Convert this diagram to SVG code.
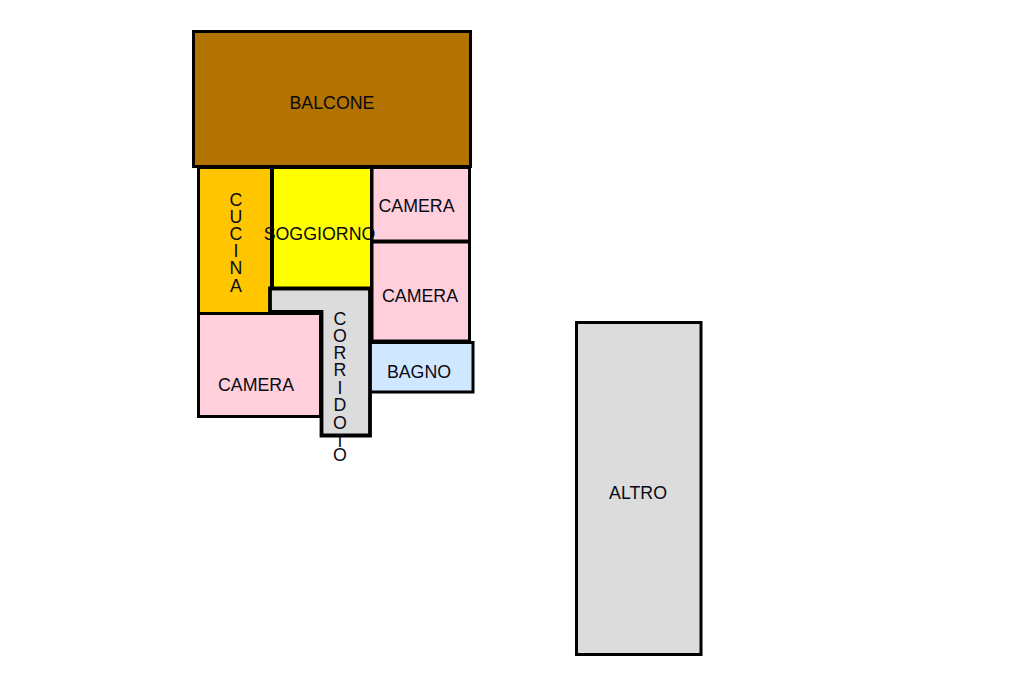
<svg xmlns="http://www.w3.org/2000/svg" width="1024" height="682" viewBox="0 0 1024 682">
<style>
.r{stroke:#000;stroke-width:3;stroke-linejoin:miter}
.t{font-family:"Liberation Sans",Arial,sans-serif;font-size:17.800px;fill:#0a0a14;text-anchor:middle}
.pink{fill:#ffd0dc}
</style>
<rect width="1024" height="682" fill="#fff"/>
<g id="balcone"><rect class="r" x="193.500" y="31.500" width="277" height="135" fill="#b27300"/><text class="t" x="332" y="108.500">BALCONE</text></g>
<g id="cucina"><rect class="r" x="198.500" y="167.500" width="73" height="146" fill="#ffc600"/><text class="t" x="236" y="205.500"><tspan x="236">C</tspan><tspan x="236" dy="17.500">U</tspan><tspan x="236" dy="16.500">C</tspan><tspan x="236" dy="17">I</tspan><tspan x="236" dy="17">N</tspan><tspan x="236" dy="18">A</tspan></text></g>
<g id="soggiorno"><rect class="r" x="272.500" y="167.500" width="99" height="122" fill="#ffff00"/></g>
<g id="camera1"><rect class="r pink" x="372" y="167.500" width="97.500" height="73.500"/><text class="t" x="416.500" y="211.500">CAMERA</text></g>
<g id="camera2"><rect class="r pink" x="372" y="242" width="97.500" height="99"/><text class="t" x="420" y="301.500">CAMERA</text></g>
<g id="camera3"><rect class="r pink" x="198.500" y="313.500" width="122" height="103"/><text class="t" x="256" y="390.500">CAMERA</text></g>
<g id="bagno"><rect class="r" x="369.500" y="342.500" width="103.500" height="49.500" fill="#d0e8ff"/><text class="t" x="419" y="377.500">BAGNO</text></g>
<g id="corridoio"><path d="M270 288.500H370V435.500H321.500V312H270Z" fill="#dcdcdc" stroke="#000" stroke-width="3.800"/><text class="t" x="340" y="325"><tspan x="340">C</tspan><tspan x="340" dy="17">O</tspan><tspan x="340" dy="17">R</tspan><tspan x="340" dy="16.500">R</tspan><tspan x="340" dy="18.500">I</tspan><tspan x="340" dy="17">D</tspan><tspan x="340" dy="17.500">O</tspan><tspan x="340" dy="18">T</tspan><tspan x="340" dy="14">O</tspan></text></g>
<g id="soggiorno-label"><text class="t" x="319.500" y="240">SOGGIORNO</text></g>
<g id="altro"><rect class="r" x="576.500" y="322.500" width="124.500" height="332" fill="#dcdcdc"/><text class="t" x="638" y="498.500">ALTRO</text></g>
</svg>
